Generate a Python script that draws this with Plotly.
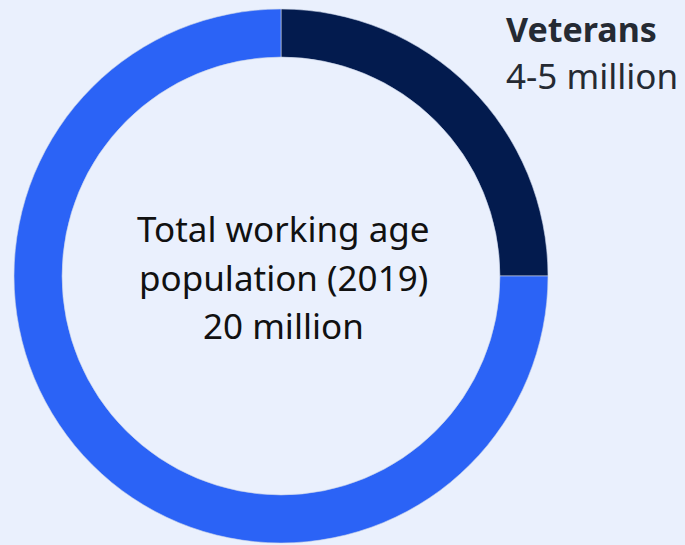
import plotly.graph_objects as go

W, H = 685, 545
BG = "#EAF0FD"

# Data
segments = ["Veterans", "Rest of working age population"]
values = [5, 15]
colors = ["#031B4E", "#2B63F6"]

center_lines = ["Total working age", "population (2019)", "20 million"]
label_title = "Veterans"
label_value = "4-5 million"

# Geometry (pixels)
cx, cy, R = 281, 276, 267

fig = go.Figure(
    go.Pie(
        labels=segments,
        values=values,
        hole=0.82,
        sort=False,
        direction="clockwise",
        rotation=0,
        marker=dict(colors=colors, line=dict(color="#C9D3E8", width=0.6)),
        textinfo="none",
        hoverinfo="label+value",
        showlegend=False,
        domain=dict(x=[(cx - R) / W, (cx + R) / W], y=[1 - (cy + R) / H, 1 - (cy - R) / H]),
    )
)

FONT = "Noto Sans"
annotations = []
line_mids = [229, 277, 325]
for txt, ym in zip(center_lines, line_mids):
    annotations.append(dict(
        text=txt, x=283 / W, y=1 - ym / H, xref="paper", yref="paper",
        xanchor="center", yanchor="middle", showarrow=False,
        font=dict(family=FONT, size=35, color="#111111"),
    ))

annotations.append(dict(
    text="<b>" + label_title + "</b>", x=504 / W, y=1 - 29 / H, xref="paper", yref="paper",
    xanchor="left", yanchor="middle", showarrow=False,
    font=dict(family=FONT, size=34, color="#252A33"),
))
annotations.append(dict(
    text=label_value, x=504 / W, y=1 - 75 / H, xref="paper", yref="paper",
    xanchor="left", yanchor="middle", showarrow=False,
    font=dict(family=FONT, size=35, color="#252A33"),
))

fig.update_layout(
    width=W, height=H,
    margin=dict(l=0, r=0, t=0, b=0),
    paper_bgcolor=BG, plot_bgcolor=BG,
    annotations=annotations,
)

fig.write_html("out.html")
